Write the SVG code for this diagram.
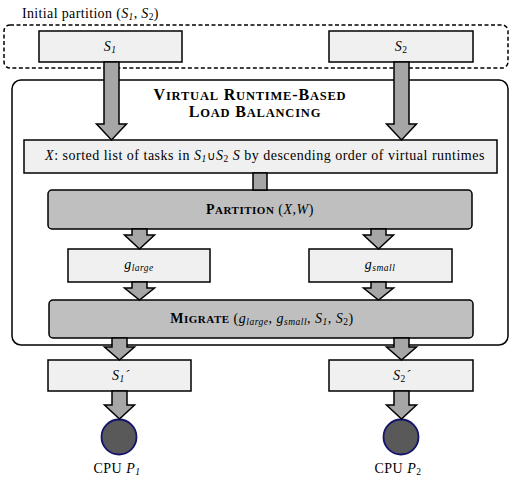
<svg xmlns="http://www.w3.org/2000/svg" width="511" height="477" viewBox="0 0 511 477" font-family="'Liberation Serif', 'DejaVu Serif', serif">
  <style>
    text { font-family: 'Liberation Serif', 'DejaVu Serif', serif; fill: #000; font-size: 14px; letter-spacing: 0.5px; }
    .lbl { text-anchor: middle; }
    .it { font-style: italic; }
    .b { font-weight: bold; }
    .sub { font-size: 9.5px; }
    .cap { font-size: 12.5px; }
    .set { fill: #f0f0f0; stroke: #000; stroke-width: 1.5; }
    .proc { fill: #bfbfbf; stroke: #000; stroke-width: 1.5; }
    .flow { fill: #a6a6a6; stroke: #000; stroke-width: 1.5; stroke-linejoin: miter; }
    .cpu { fill: #595959; stroke: #14146e; stroke-width: 1.8; }
  </style>

  <!-- initial partition frame -->
  <g id="initial-partition">
    <rect x="4" y="25" width="504" height="43" rx="6" fill="none" stroke="#000" stroke-width="1.5" stroke-dasharray="4 2.5"/>
    <text x="22" y="18" style="letter-spacing:0.35px">Initial partition (<tspan class="it">S</tspan><tspan class="it sub" dy="2">1</tspan><tspan dy="-2">, </tspan><tspan class="it">S</tspan><tspan class="sub" dy="2">2</tspan><tspan dy="-2">)</tspan></text>
  </g>

  <!-- load balancing frame -->
  <g id="load-balancing">
    <rect x="12" y="80" width="496" height="265" rx="9" fill="#fff" stroke="#000" stroke-width="1.5"/>
    <text class="lbl b" x="250" y="100" style="font-size:16px;letter-spacing:0.8px">V<tspan class="cap">IRTUAL</tspan> R<tspan class="cap">UNTIME</tspan>-B<tspan class="cap">ASED</tspan></text>
    <text class="lbl b" x="255" y="117" style="font-size:16px;letter-spacing:0.8px">L<tspan class="cap">OAD</tspan> B<tspan class="cap">ALANCING</tspan></text>
  </g>

  <g id="s1">
    <rect class="set" x="39" y="31" width="143" height="31"/>
    <text class="lbl" x="110" y="51"><tspan class="it">S</tspan><tspan class="it sub" dy="2">1</tspan></text>
  </g>
  <g id="s2">
    <rect class="set" x="329" y="31" width="144" height="31"/>
    <text class="lbl" x="401" y="51"><tspan class="it">S</tspan><tspan class="sub" dy="2">2</tspan></text>
  </g>

  <g id="sorted-list">
    <rect class="set" x="24" y="140" width="473" height="33"/>
    <text class="lbl" x="265" y="160"><tspan class="it">X</tspan>: sorted list of tasks in <tspan class="it">S</tspan><tspan class="it sub" dy="2">1</tspan><tspan dy="-2" font-family="'DejaVu Sans', sans-serif" style="font-size:12px">∪</tspan><tspan class="it">S</tspan><tspan class="sub" dy="2">2</tspan><tspan dy="-2"> </tspan><tspan class="it">S</tspan> by descending order of virtual runtimes</text>
  </g>

  <g id="partition">
    <rect class="proc" x="48" y="190" width="424" height="39" rx="4"/>
    <text class="lbl" x="260" y="214"><tspan class="b">P<tspan class="cap" style="font-size:11px">ARTITION</tspan></tspan> (<tspan class="it">X</tspan>,<tspan class="it">W</tspan>)</text>
  </g>

  <g id="g-large">
    <rect class="set" x="68" y="249" width="142" height="33"/>
    <text class="lbl" x="139" y="269"><tspan class="it">g</tspan><tspan class="it sub" dy="2">large</tspan></text>
  </g>
  <g id="g-small">
    <rect class="set" x="309" y="249" width="143" height="33"/>
    <text class="lbl" x="380" y="269"><tspan class="it">g</tspan><tspan class="it sub" dy="2">small</tspan></text>
  </g>

  <g id="migrate">
    <rect class="proc" x="49" y="300" width="424" height="38" rx="4"/>
    <text class="lbl" x="262" y="323"><tspan class="b">M<tspan class="cap" style="font-size:11px">IGRATE</tspan></tspan> (<tspan class="it">g</tspan><tspan class="it sub" dy="2">large</tspan><tspan dy="-2">, </tspan><tspan class="it">g</tspan><tspan class="it sub" dy="2">small</tspan><tspan dy="-2">, </tspan><tspan class="it">S</tspan><tspan class="it sub" dy="2">1</tspan><tspan dy="-2">, </tspan><tspan class="it">S</tspan><tspan class="sub" dy="2">2</tspan><tspan dy="-2">)</tspan></text>
  </g>

  <g id="s1-new">
    <rect class="set" x="48" y="360" width="143" height="31"/>
    <text class="lbl" x="121" y="380"><tspan class="it">S</tspan><tspan class="it sub" dy="2">1</tspan><tspan class="it" dy="-2">´</tspan></text>
  </g>
  <g id="s2-new">
    <rect class="set" x="329" y="360" width="144" height="31"/>
    <text class="lbl" x="402" y="380"><tspan class="it">S</tspan><tspan class="sub" dy="2">2</tspan><tspan class="it" dy="-2">´</tspan></text>
  </g>

  <g id="cpu-p1">
    <circle class="cpu" cx="119" cy="437" r="17.5"/>
    <text class="lbl" x="117" y="473">CPU <tspan class="it">P</tspan><tspan class="it sub" dy="2">1</tspan></text>
  </g>
  <g id="cpu-p2">
    <circle class="cpu" cx="401" cy="437" r="17.5"/>
    <text class="lbl" x="398" y="473">CPU <tspan class="it">P</tspan><tspan class="sub" dy="2">2</tspan></text>
  </g>

  <!-- block arrows -->
  <g id="connectors">
    <path class="flow" d="M104,62 V124 H96.5 L111.5,140 L126.5,124 H119 V62 Z"/>
    <path class="flow" d="M394,62 V124 H386.5 L401.5,140 L416.5,124 H409 V62 Z"/>
    <path class="flow" d="M253,173 V190 H267 V173 Z"/>
    <path class="flow" d="M132,229 V235 H124.5 L139.5,249 L154.5,235 H147 V229 Z"/>
    <path class="flow" d="M371,229 V235 H363.5 L378.5,249 L393.5,235 H386 V229 Z"/>
    <path class="flow" d="M132,282 V288 H124.5 L139.5,300 L154.5,288 H147 V282 Z"/>
    <path class="flow" d="M371,282 V288 H363.5 L378.5,300 L393.5,288 H386 V282 Z"/>
    <path class="flow" d="M112,338 V347 H104.5 L119.5,360 L134.5,347 H127 V338 Z"/>
    <path class="flow" d="M394,338 V347 H386.5 L401.5,360 L416.5,347 H409 V338 Z"/>
    <path class="flow" d="M112,391 V405 H104.5 L119.5,419 L134.5,405 H127 V391 Z"/>
    <path class="flow" d="M394,391 V405 H386.5 L401.5,419 L416.5,405 H409 V391 Z"/>
  </g>
</svg>
